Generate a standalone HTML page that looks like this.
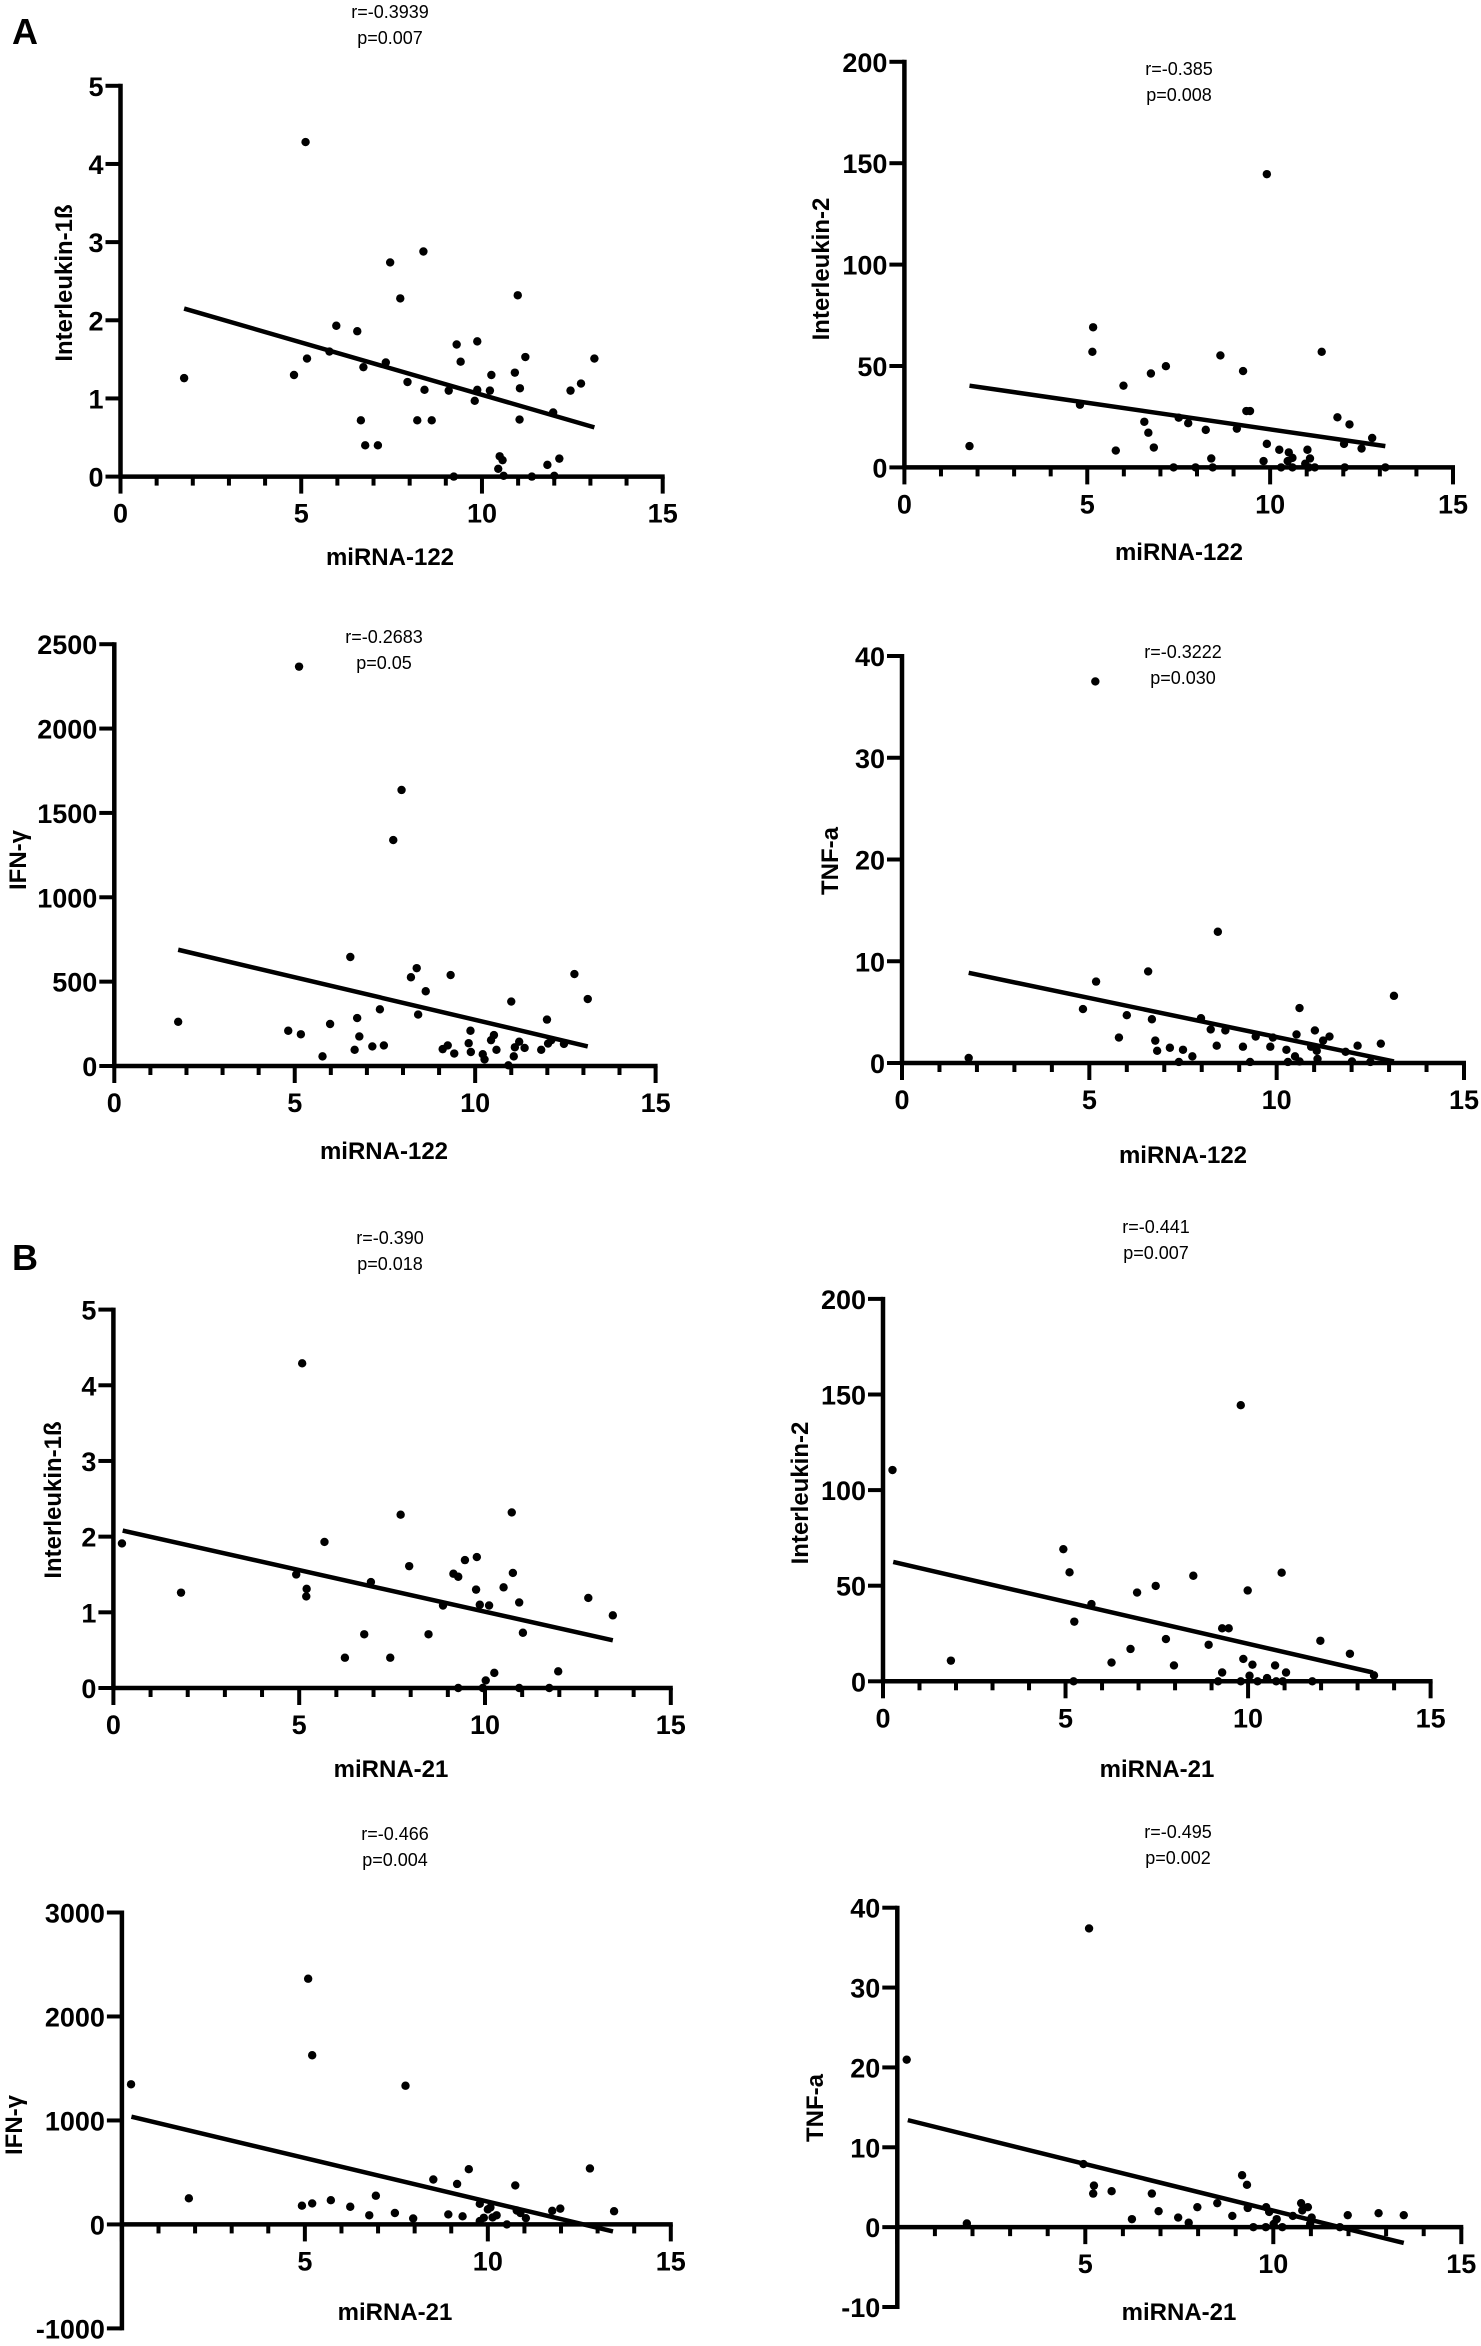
<!DOCTYPE html>
<html><head><meta charset="utf-8"><style>
html,body{margin:0;padding:0;background:#fff}
svg{display:block}
text{font-family:"Liberation Sans",Arial,sans-serif;fill:#000}
.tk{font-weight:bold;font-size:27px}
.ti{font-weight:bold;font-size:24px}
.st{font-size:18px}
.pl{font-weight:bold;font-size:36px}
</style></head><body>
<svg id="fig" width="1481" height="2346" viewBox="0 0 1481 2346" xmlns="http://www.w3.org/2000/svg">
<text class="pl" x="25" y="44" text-anchor="middle">A</text>
<text class="pl" x="25" y="1270" text-anchor="middle">B</text>
</svg>
<script>
// ---- data ----
const a1X=[1.76,5.12,4.80,5.16,5.78,5.97,6.55,6.72,6.65,6.77,7.12,7.34,7.46,7.74,7.94,8.38,8.41,8.21,8.61,9.08,9.22,9.30,9.41,9.87,9.87,9.80,10.22,10.26,10.49,10.57,10.45,10.60,10.91,10.99,11.05,11.04,11.20,11.38,11.81,11.97,12.0,12.14,12.45,12.74,13.11];
const a1Y=[1.26,4.28,1.30,1.51,1.60,1.93,1.86,1.40,0.72,0.40,0.40,1.46,2.74,2.28,1.21,2.88,1.11,0.72,0.72,1.10,0,1.69,1.47,1.73,1.11,0.97,1.10,1.30,0.26,0.21,0.10,0.01,1.33,2.32,1.13,0.73,1.53,0,0.15,0.82,0.01,0.23,1.10,1.19,1.51];
const a1Fit=[1.76,2.15,13.11,0.63];

const a2X=[1.78,4.80,5.16,5.14,5.78,5.99,6.56,6.67,6.74,6.82,7.15,7.36,7.50,7.76,7.96,8.24,8.39,8.43,8.64,9.09,9.26,9.35,9.45,9.82,9.91,9.91,10.25,10.30,10.51,10.48,10.61,10.61,10.96,11.02,11.09,11.06,11.22,11.41,11.84,12.02,12.04,12.17,12.50,12.79,13.15];
const a2Y=[10.5,30.9,69.1,57.0,8.3,40.3,22.5,17.1,46.3,9.8,49.9,0,24.5,21.8,0,18.5,4.4,0,55.2,19.1,47.5,27.8,27.8,3.1,144.6,11.6,8.7,0,7.4,3.1,4.7,0,1.8,8.7,4.4,0,0,57.0,24.7,11.6,0,21.2,9.3,14.5,0];
const a2Fit=[1.78,40.3,13.15,10.5];

const a3X=[1.77,5.12,4.82,5.17,5.77,5.98,6.54,6.73,6.66,6.79,7.15,7.36,7.47,7.73,7.96,8.22,8.38,8.42,8.63,9.10,9.24,9.32,9.42,9.82,9.87,9.88,10.21,10.26,10.44,10.52,10.59,10.92,11.0,11.07,11.10,11.22,11.37,11.83,11.99,12.02,12.11,12.46,12.75,13.12];
const a3Y=[262,2367,209,188,57,249,646,284,96,175,116,336,122,1339,1636,526,580,305,443,100,122,539,74,135,209,83,70,39,153,183,96,4,382,57,111,144,107,96,275,133,153,131,545,397];
const a3Fit=[1.77,689,13.12,116];

const a4X=[1.78,5.16,4.83,5.18,5.79,6.0,6.57,6.67,6.76,6.81,7.15,7.39,7.50,7.75,7.98,8.24,8.43,8.40,8.63,9.10,9.29,9.44,9.83,9.90,10.26,10.30,10.49,10.53,10.61,10.61,10.92,11.02,11.07,11.09,11.24,11.41,11.84,12.01,12.16,12.50,12.78,13.13];
const a4Y=[0.5,37.5,5.3,8.0,2.5,4.7,9.0,4.3,2.2,1.2,1.5,0.1,1.3,0.65,4.4,3.3,12.9,1.7,3.2,1.6,0.1,2.6,1.6,2.5,1.3,0.1,0.65,2.8,5.4,0.15,1.6,3.2,1.2,0.4,2.2,2.6,1.1,0.15,1.7,0.1,1.9,6.6];
const a4Fit=[1.78,8.86,13.13,0.15];

const b1X=[0.23,1.82,4.92,5.08,5.20,5.19,5.68,6.23,6.75,6.93,7.45,7.73,7.96,8.48,8.87,9.15,9.28,9.28,9.46,9.78,9.76,9.86,9.94,10.02,10.11,10.25,10.50,10.72,10.75,10.92,10.92,11.02,11.73,11.97,12.78,13.44];
const b1Y=[1.91,1.26,1.50,4.29,1.31,1.21,1.93,0.40,0.71,1.40,0.40,2.29,1.61,0.71,1.09,1.51,1.47,0,1.69,1.73,1.30,1.10,0,0.10,1.09,0.20,1.33,2.32,1.52,1.13,0,0.73,0,0.22,1.19,0.96];
const b1Fit=[0.25,2.08,13.44,0.63];

const b2X=[0.26,1.86,4.94,5.11,5.24,5.22,5.71,6.26,6.78,6.96,7.47,7.75,7.97,8.50,8.92,9.18,9.29,9.47,9.29,9.80,9.80,9.87,9.99,10.04,10.12,10.26,10.52,10.74,10.77,10.92,10.95,11.04,11.76,11.98,12.79,13.45];
const b2Y=[110.5,10.8,69.1,57.0,31.2,0,40.4,9.8,16.9,46.4,49.9,22.1,8.3,55.2,19.1,0,27.7,27.7,4.6,144.4,0,11.7,47.5,2.9,8.7,0,1.7,8.3,0,56.8,0,4.6,0,21.2,14.4,3.1];
const b2Fit=[0.28,62.4,13.42,4.6];

const b3X=[0.25,1.83,4.92,5.09,5.20,5.20,5.71,6.24,6.76,6.94,7.46,7.75,7.96,8.51,8.92,9.16,9.31,9.48,9.78,9.78,9.89,10.0,10.07,10.13,10.24,10.52,10.75,10.79,10.89,11.04,11.76,11.98,12.79,13.45];
const b3Y=[1348,251,180,2363,1627,202,233,170,88,276,110,1334,57,432,96,389,78,531,198,32,64,145,163,67,88,0,375,134,110,60,131,152,538,127];
const b3Fit=[0.26,1036,13.42,-67];

const b4X=[0.25,1.85,5.10,4.95,5.23,5.21,5.70,6.24,6.77,6.95,7.47,7.75,7.98,8.51,8.91,9.17,9.30,9.32,9.47,9.80,9.81,9.89,10.01,10.09,10.24,10.52,10.74,10.77,10.92,11.02,10.98,11.77,11.98,12.80,13.47];
const b4Y=[20.97,0.46,37.4,7.9,5.2,4.2,4.5,1.0,4.2,2.0,1.2,0.55,2.5,3.0,1.4,6.5,5.3,2.4,0,0,2.5,1.9,0.4,1.0,0,1.4,3.0,2.1,2.5,1.2,0.4,0,1.5,1.75,1.5];
const b4Fit=[0.28,13.4,13.47,-1.98];

const xTicks=[0,5,10,15];
const yTicksIL1=[0,1,2,3,4,5];
const yTicksIL2=[0,50,100,150,200];
const yTicksIFNa=[0,500,1000,1500,2000,2500];
const yTicksTNFa=[0,10,20,30,40];
const yTicksIFNb=[-1000,0,1000,2000,3000];
const yTicksTNFb=[-10,0,10,20,30,40];
const statsR=["r=-0.3939","r=-0.385","r=-0.2683","r=-0.3222","r=-0.390","r=-0.441","r=-0.466","r=-0.495"];
const statsP=["p=0.007","p=0.008","p=0.05","p=0.030","p=0.018","p=0.007","p=0.004","p=0.002"];

// ---- layout ----
const panels=[
 {id:'a1',X:a1X,Y:a1Y,F:a1Fit,yt:yTicksIL1,yl:'Interleukin-1ß',xl:'miRNA-122',px0:120.5,px15:662.7,pyMin:476.6,pyMax:85.8,sx:390,sy:18,xlx:390,xly:565,ylx:64,yly:283,zeroLbl:true},
 {id:'a2',X:a2X,Y:a2Y,F:a2Fit,yt:yTicksIL2,yl:'Interleukin-2',xl:'miRNA-122',px0:904.4,px15:1453,pyMin:467.4,pyMax:61.8,sx:1179,sy:75,xlx:1179,xly:560,ylx:821,yly:269,zeroLbl:true},
 {id:'a3',X:a3X,Y:a3Y,F:a3Fit,yt:yTicksIFNa,yl:'IFN-γ',xl:'miRNA-122',px0:114.3,px15:655.6,pyMin:1066,pyMax:644.2,sx:384,sy:643,xlx:384,xly:1159,ylx:18,yly:860,zeroLbl:true},
 {id:'a4',X:a4X,Y:a4Y,F:a4Fit,yt:yTicksTNFa,yl:'TNF-a',xl:'miRNA-122',px0:902,px15:1464,pyMin:1063,pyMax:656,sx:1183,sy:658,xlx:1183,xly:1163,ylx:830,yly:861,zeroLbl:true},
 {id:'b1',X:b1X,Y:b1Y,F:b1Fit,yt:yTicksIL1,yl:'Interleukin-1ß',xl:'miRNA-21',px0:113.4,px15:670.8,pyMin:1688,pyMax:1309.6,sx:390,sy:1244,xlx:391,xly:1777,ylx:53,yly:1500,zeroLbl:true},
 {id:'b2',X:b2X,Y:b2Y,F:b2Fit,yt:yTicksIL2,yl:'Interleukin-2',xl:'miRNA-21',px0:883,px15:1430.6,pyMin:1681.3,pyMax:1298.9,sx:1156,sy:1233,xlx:1157,xly:1777,ylx:800,yly:1493,zeroLbl:true},
 {id:'b3',X:b3X,Y:b3Y,F:b3Fit,yt:yTicksIFNb,yl:'IFN-γ',xl:'miRNA-21',px0:121.9,px15:670.8,pyMin:2328.4,pyMax:1912.5,sx:395,sy:1840,xlx:395,xly:2320,ylx:14,yly:2125,zeroLbl:false},
 {id:'b4',X:b4X,Y:b4Y,F:b4Fit,yt:yTicksTNFb,yl:'TNF-a',xl:'miRNA-21',px0:897.3,px15:1461.3,pyMin:2307,pyMax:1907.7,sx:1178,sy:1838,xlx:1179,xly:2320,ylx:815,yly:2108,zeroLbl:false}
];
const NS='http://www.w3.org/2000/svg';
const svg=document.getElementById('fig');
function mk(tag,attrs,parent){const e=document.createElementNS(NS,tag);for(const k in attrs)e.setAttribute(k,attrs[k]);parent.appendChild(e);return e;}

panels.forEach((p,pi)=>{
 const yMin=p.yt[0], yMax=p.yt[p.yt.length-1];
 const xs=v=>p.px0+(v/15)*(p.px15-p.px0);
 const ys=v=>p.pyMin+(v-yMin)/(yMax-yMin)*(p.pyMax-p.pyMin);
 const g=mk('g',{},svg);
 
 
 const y0=ys(0);
 // axes
 const yAx=mk('line',{x1:p.px0,y1:p.pyMin+2,x2:p.px0,y2:p.pyMax-2,stroke:'#000','stroke-width':4.5},g);
 
 
 const xAx=mk('line',{x1:p.px0-2,y1:y0,x2:p.px15+2,y2:y0,stroke:'#000','stroke-width':4.5},g);
 
 
 for(let i=0;i<=15;i++){
  const major=i%5===0;
  const t=mk('line',{x1:xs(i),y1:y0,x2:xs(i),y2:y0+(major?17:9),stroke:'#000','stroke-width':4},g);
  
  
 }
 xTicks.forEach(v=>{
  if(v===0&&!p.zeroLbl)return;
  const t=mk('text',{x:xs(v),y:y0+46,'text-anchor':'middle',class:'tk'},g);
  t.textContent=v;
  
  
 });
 p.yt.forEach(v=>{
  const tk=mk('line',{x1:p.px0-15,y1:ys(v),x2:p.px0,y2:ys(v),stroke:'#000','stroke-width':4},g);
  
  
  const t=mk('text',{x:p.px0-17,y:ys(v)+10,'text-anchor':'end',class:'tk'},g);
  t.textContent=v;
  
  
 });
 // fit line
 const fl=mk('line',{x1:xs(p.F[0]),y1:ys(p.F[1]),x2:xs(p.F[2]),y2:ys(p.F[3]),stroke:'#000','stroke-width':4.5},g);
 
 
 // points
 p.X.forEach((x,i)=>{
  const c=mk('circle',{cx:xs(x),cy:ys(p.Y[i]),r:4.2,fill:'#000'},g);
  
  
 });
 // stats
 const r=mk('text',{x:p.sx,y:p.sy,'text-anchor':'middle',class:'st'},g);
 r.textContent=statsR[pi];
 
 
 const pv=mk('text',{x:p.sx,y:p.sy+26,'text-anchor':'middle',class:'st'},g);
 pv.textContent=statsP[pi];
 
 
 // titles
 const xt=mk('text',{x:p.xlx,y:p.xly,'text-anchor':'middle',class:'ti'},g);
 xt.textContent=p.xl;
 
 
 const yt=mk('text',{x:p.ylx+8,y:p.yly,'text-anchor':'middle',class:'ti',transform:'rotate(-90 '+(p.ylx+8)+' '+p.yly+')'},g);
 yt.textContent=p.yl;
 
 
});
</script>
</body></html>
